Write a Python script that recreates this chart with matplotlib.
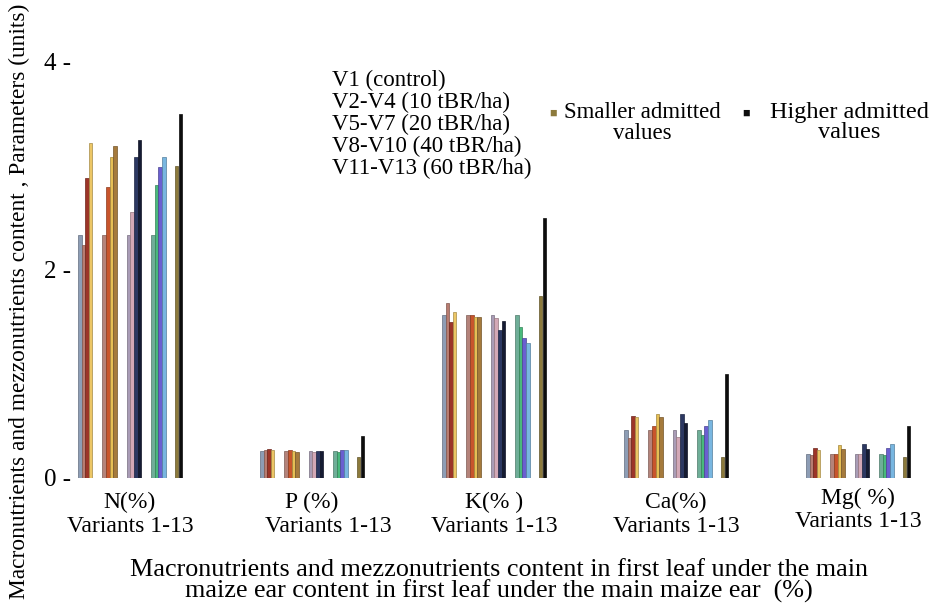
import matplotlib
matplotlib.use("Agg")
import matplotlib.pyplot as plt
import matplotlib.colors as mcolors

plt.rcParams['font.family'] = ['Liberation Serif', 'DejaVu Serif']

# ---- data ----
nutrients = ["N", "P", "K", "Ca", "Mg"]
group_labels = ["N(%)", "P (%)", "K(% )", "Ca(%)", "Mg( %)"]
variant_names = ["V1", "V2", "V3", "V4", "V5", "V6", "V7", "V8", "V9", "V10", "V11", "V12", "V13"]

N_values  = [2.34, 2.24, 2.88, 3.22, 2.80, 3.09, 3.19, 2.56, 3.09, 3.25, 2.82, 2.99, 3.09]
P_values  = [0.26, 0.27, 0.28, 0.27, 0.27, 0.26, 0.25, 0.25, 0.26, 0.26, 0.25, 0.27, 0.27]
K_values  = [1.57, 1.68, 1.50, 1.60, 1.57, 1.55, 1.55, 1.54, 1.42, 1.51, 1.45, 1.35, 1.30]
Ca_values = [0.46, 0.38, 0.60, 0.59, 0.50, 0.62, 0.59, 0.39, 0.62, 0.53, 0.41, 0.50, 0.56]
Mg_values = [0.23, 0.22, 0.29, 0.27, 0.23, 0.32, 0.28, 0.23, 0.33, 0.28, 0.22, 0.29, 0.33]

smaller_admitted = [3.0, 0.2, 1.75, 0.2, 0.2]
higher_admitted  = [3.5, 0.4, 2.5, 1.0, 0.5]

legend_lines = ["V1 (control)", "V2-V4 (10 tBR/ha)", "V5-V7 (20 tBR/ha)",
                "V8-V10 (40 tBR/ha)", "V11-V13 (60 tBR/ha)"]

# clusters: control (V1) shown with each dose level
clusters = [[0, 1, 2, 3], [0, 4, 5, 6], [0, 7, 8, 9], [0, 10, 11, 12]]

# ---- styles ----
control_colors = ["#8d9db5", "#b4837a", "#a99cb6", "#6fae98"]
variant_colors = [None, "#b87c70", "#9c3528", "#ecc665",
                  "#c8552c", "#e6bf55", "#a57a3c",
                  "#d3a8b6", "#2c3862", "#151b33",
                  "#49b97c", "#6a5fd0", "#78b6e0"]
smaller_color = "#8c7a3c"
higher_color = "#0d0d0d"

all_values = [N_values, P_values, K_values, Ca_values, Mg_values]

W, H = 936, 607
fig = plt.figure(figsize=(W / 100, H / 100), dpi=100)
ax_left, ax_bottom_px, ax_w, px_per_unit, ymax = 75, 478, 850, 104, 4.2
ax = fig.add_axes([ax_left / W, (H - ax_bottom_px) / H, ax_w / W, ymax * px_per_unit / H])
ax.set_xlim(0, ax_w)
ax.set_ylim(0, ymax)

group_start0, group_step = 3, 182.0
cluster_step = 24.4
bar_w = 3.6

def darker(c, f=0.7):
    r, g, b = mcolors.to_rgb(c)
    return (r * f, g * f, b * f)

centers = []
for g, vals in enumerate(all_values):
    gs = group_start0 + g * group_step
    for c, idxs in enumerate(clusters):
        cs = gs + c * cluster_step
        for k, vi in enumerate(idxs):
            col = control_colors[c] if vi == 0 else variant_colors[vi]
            ax.bar(cs + k * bar_w + bar_w / 2, vals[vi], width=bar_w, color=col,
                   edgecolor=darker(col), linewidth=0.5, align='center')
    cs = gs + len(clusters) * cluster_step - 1
    ax.bar(cs + bar_w / 2, smaller_admitted[g], width=bar_w, color=smaller_color,
           edgecolor=darker(smaller_color), linewidth=0.5)
    ax.bar(cs + bar_w * 1.5 + 0.4, higher_admitted[g], width=bar_w, color=higher_color,
           edgecolor=higher_color, linewidth=0.5)
    centers.append((gs + cs + 2 * bar_w) / 2)

for s in ax.spines.values():
    s.set_visible(False)
ax.set_yticks([0, 2, 4])
ax.set_yticklabels(["0 -", "2 -", "4 -"], fontsize=18)
ax.tick_params(axis='y', length=0, pad=3)
ax.set_xticks([])

# group labels
name_dy = [-10, -10, -10, -10, -7]
var_dy = [-27, -27, -27, -27, -24]
var_dx = [0, 12, 0, 0, 0]
for g, lab in enumerate(group_labels):
    xc = centers[g]
    ax.annotate(lab, xy=(xc, 0), xycoords='data', xytext=(0, name_dy[g]),
                textcoords='offset points', ha='center', va='top', fontsize=17)
    ax.annotate("Variants 1-13", xy=(xc, 0), xycoords='data', xytext=(var_dx[g], var_dy[g]),
                textcoords='offset points', ha='center', va='top', fontsize=17)

# legend text block
fig.text(332 / W, 1 - 70 / H, "\n".join(legend_lines), ha='left', va='top',
         fontsize=16.5, linespacing=1.05)
fig.text(553 / W, 1 - 114 / H, "\u25a0", color=smaller_color, fontsize=9, ha='center', va='center')
fig.text(642 / W, 1 - 102 / H, "Smaller admitted\nvalues", ha='center', va='top',
         fontsize=16.5, linespacing=1.0)
fig.text(746 / W, 1 - 114 / H, "\u25a0", color=higher_color, fontsize=9, ha='center', va='center')
fig.text(849 / W, 1 - 102 / H, "Higher admitted\nvalues", ha='center', va='top',
         fontsize=17.5, linespacing=0.95)

# axis titles
fig.text(499 / W, 1 - 559 / H,
         "Macronutrients and mezzonutrients content in first leaf under the main\n"
         "maize ear content in first leaf under the main maize ear  (%)",
         ha='center', va='top', fontsize=18.8, linespacing=0.93)
fig.text(19 / W, 1 - 301 / H,
         "Macronutrients and mezzonutrients content , Parameters (units)",
         rotation=90, ha='center', va='center', fontsize=16.8)

fig.savefig("out.png", dpi=100, facecolor='white')
